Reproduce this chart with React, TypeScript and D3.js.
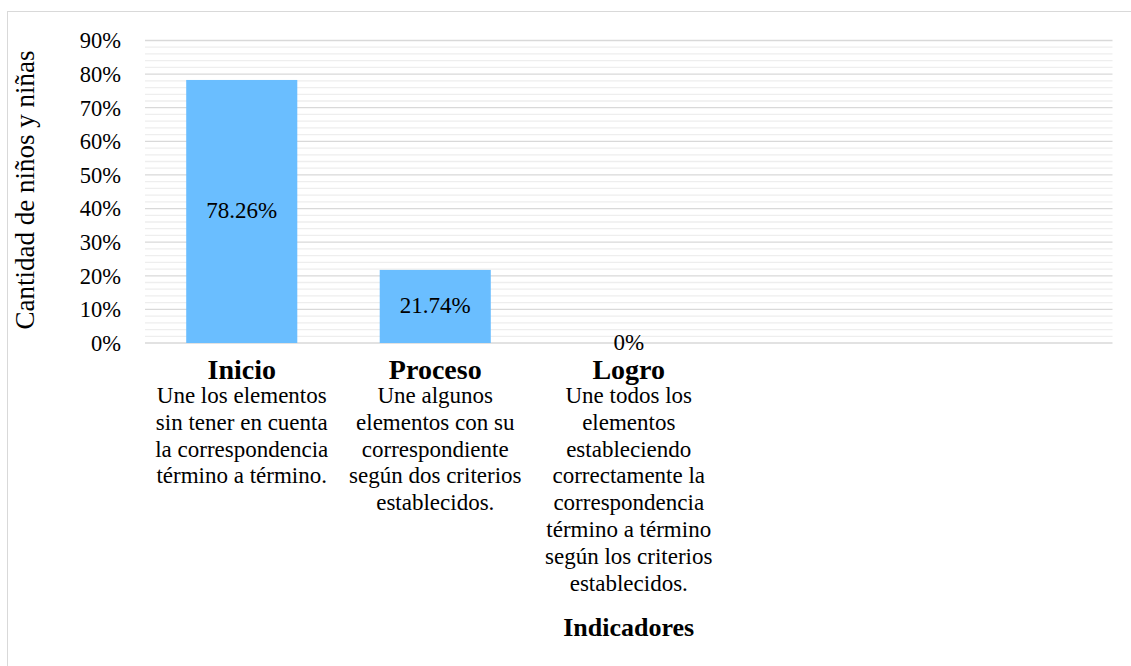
import React from "react";
import * as d3 from "d3";

const categories = ["Inicio", "Proceso", "Logro"];
const values = [78.26, 21.74, 0];
const valueLabels = ["78.26%", "21.74%", "0%"];
const descriptions = [
  ["Une los elementos", "sin tener en cuenta", "la correspondencia", "término a término."],
  ["Une algunos", "elementos con su", "correspondiente", "según dos criterios", "establecidos."],
  [
    "Une todos los",
    "elementos",
    "estableciendo",
    "correctamente la",
    "correspondencia",
    "término a término",
    "según los criterios",
    "establecidos."
  ]
];
const yTicks = [0, 10, 20, 30, 40, 50, 60, 70, 80, 90];
const yMinorTicks = d3.range(0, 91, 2).filter((v) => v % 10 !== 0);
const yTitle = "Cantidad de niños y niñas";
const xTitle = "Indicadores";

// the chart leaves room for five categories but only three are filled
const SLOTS = 5;
const W = 1131;
const H = 666;
const FONT = "Liberation Serif, Times New Roman, serif";

export default function App() {
  const x = d3.scaleBand<number>().domain(d3.range(SLOTS)).range([145, 1112.5]);
  const y = d3.scaleLinear().domain([0, 90]).range([343, 40.5]);
  const barW = x.bandwidth() * 0.574;
  const left = x.range()[0];
  const right = x.range()[1];

  return (
    <svg
      width={W}
      height={H}
      style={{ position: "absolute", left: 0, top: 0, background: "#fff", fontFamily: FONT }}
    >
      <rect x={7.5} y={11.5} width={1130} height={700} fill="#fff" stroke="#d9d9d9" strokeWidth={1} />

      {yMinorTicks.map((t) => (
        <line key={"m" + t} x1={left} x2={right} y1={y(t)} y2={y(t)} stroke="#eeeeee" strokeWidth={1.3} />
      ))}
      {yTicks.map((t) => (
        <line key={"g" + t} x1={left} x2={right} y1={y(t)} y2={y(t)} stroke="#d9d9d9" strokeWidth={1.3} />
      ))}

      {yTicks.map((t) => (
        <text key={"t" + t} x={121} y={y(t)} dy="0.35em" textAnchor="end" fontSize={22.5} fill="#000">
          {t}%
        </text>
      ))}

      <text
        transform={`translate(34, 190) rotate(-90)`}
        textAnchor="middle"
        fontSize={27}
        fill="#000"
      >
        {yTitle}
      </text>

      {categories.map((c, i) => {
        const cx = (x(i) ?? 0) + x.bandwidth() / 2;
        const top = y(values[i]);
        return (
          <g key={c}>
            <rect x={cx - barW / 2} y={top} width={barW} height={y(0) - top} fill="#6abeff" />
            <text x={cx} y={(top + y(0)) / 2} dy="0.3em" textAnchor="middle" fontSize={23} fill="#000">
              {valueLabels[i]}
            </text>
            <text x={cx} y={379} textAnchor="middle" fontSize={28} fontWeight="bold" fill="#000">
              {c}
            </text>
            {descriptions[i].map((line, j) => (
              <text key={j} x={cx} y={403 + j * 26.8} textAnchor="middle" fontSize={23} fill="#000">
                {line}
              </text>
            ))}
          </g>
        );
      })}

      <text x={(x(2) ?? 0) + x.bandwidth() / 2} y={636} textAnchor="middle" fontSize={26} fontWeight="bold" fill="#000">
        {xTitle}
      </text>
    </svg>
  );
}
